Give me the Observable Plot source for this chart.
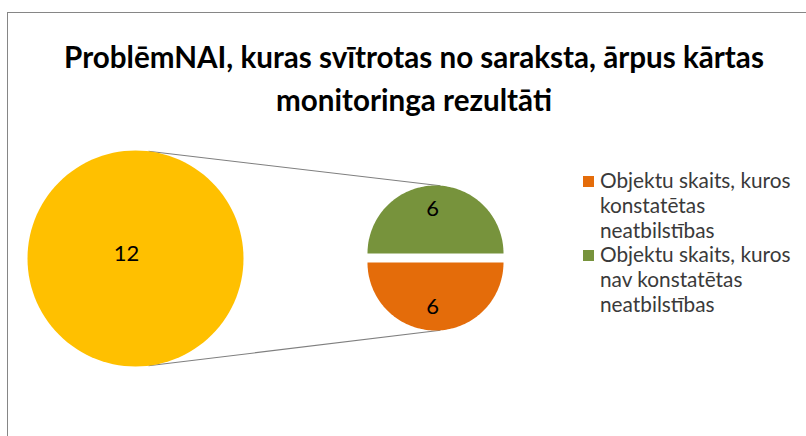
<!DOCTYPE html>
<html><head><meta charset="utf-8">
<script src="https://cdn.jsdelivr.net/npm/d3@7"></script>
<script src="https://cdn.jsdelivr.net/npm/@observablehq/plot@0.6"></script>
<style>
html,body{margin:0;padding:0;background:#fff;}
#wrap{position:relative;width:806px;height:436px;overflow:hidden;font-family:Lato,"Open Sans",sans-serif;}
#frame{position:absolute;left:7px;top:12px;width:900px;height:500px;border-left:1px solid #868686;border-top:1px solid #868686;box-sizing:border-box;}
#title{position:absolute;left:7px;top:12px;width:814px;text-align:center;font-weight:700;font-size:29.6px;line-height:43px;color:#000;padding-top:23px;white-space:nowrap;}
#chart{position:absolute;left:0;top:130px;}
#legend{position:absolute;left:583px;top:168px;font-size:20.8px;line-height:24.8px;color:#3a3a3a;}
.item{position:relative;padding-left:17px;width:205px;}
.sw{position:absolute;left:0;top:8px;width:11px;height:11px;}
</style></head>
<body>
<div id="wrap">
  <div id="frame"></div>
  <div id="title">ProblēmNAI, kuras svītrotas no saraksta, ārpus kārtas<br>monitoringa rezultāti</div>
  <div id="chart"></div>
  <div id="legend"></div>
</div>
<script>
// ---- data ----
const mainCategories = ["Kopā"];
const mainValues = [12];
const detailCategories = [
  "Objektu skaits, kuros konstatētas neatbilstības",
  "Objektu skaits, kuros nav konstatētas neatbilstības"
];
const detailValues = [6, 6];
const mainColors = ["#FFC000"];
const detailColors = ["#E46C0A", "#77933C"];

// ---- layout (page pixels) ----
const TOP = 130, W = 570, H = 306;
const big = {cx: 135, cy: 258, r: 108, explode: 0};
const small = {cx: 435, cy: 257.5, r: 68, explode: 4.5};
const deg = Math.PI / 180;

function pt(c, a, r, off, mid) {
  const ox = off * Math.sin(mid), oy = -off * Math.cos(mid);
  return {x: c.cx + ox + r * Math.sin(a), y: c.cy + oy - r * Math.cos(a)};
}
function slicePolys(values, cats, geom, start) {
  const arcs = d3.pie().sort(null).startAngle(start).endAngle(start + 2 * Math.PI)(values);
  const polys = [], labels = [];
  arcs.forEach((a, i) => {
    const mid = (a.startAngle + a.endAngle) / 2;
    const full = a.endAngle - a.startAngle > 2 * Math.PI - 1e-6;
    const off = full ? 0 : geom.explode;
    const n = 120;
    if (!full) polys.push({key: cats[i], cat: cats[i], ...pt(geom, 0, 0, off, mid)});
    for (let k = 0; k <= n; k++) {
      const ang = a.startAngle + (a.endAngle - a.startAngle) * k / n;
      polys.push({key: cats[i], cat: cats[i], ...pt(geom, ang, geom.r, off, mid)});
    }
    if (!full) polys.push({key: cats[i], cat: cats[i], ...pt(geom, 0, 0, off, mid)});
    const lp = full ? {x: geom.cx - 9, y: geom.cy - 5} : pt(geom, mid, geom.r * 0.65, off, mid);
    if (!full) lp.x -= 3;
    labels.push({cat: cats[i], value: a.data, ...lp});
  });
  return {polys, labels};
}
const mainPie = slicePolys(mainValues, mainCategories, big, 0);
const detailPie = slicePolys(detailValues, detailCategories, small, Math.PI / 2);

// connector lines from the main pie to the exploded detail pie
const connectors = [
  {from: pt(big, 6.9 * deg, big.r, 0, 0), to: pt(small, 4.2 * deg, small.r, small.explode, 0)},
  {from: pt(big, 173.1 * deg, big.r, 0, 0), to: pt(small, 175.8 * deg, small.r, small.explode, Math.PI)}
];

const chart = Plot.plot({
  width: W, height: H,
  margin: 0,
  x: {domain: [0, W], range: [0, W], axis: null},
  y: {domain: [TOP, TOP + H], range: [0, H], axis: null},
  color: {domain: [...mainCategories, ...detailCategories], range: [...mainColors, ...detailColors]},
  style: {fontFamily: "Lato, 'Open Sans', sans-serif", background: "transparent", overflow: "visible"},
  marks: [
    Plot.link(connectors, {x1: d => d.from.x, y1: d => d.from.y, x2: d => d.to.x, y2: d => d.to.y, stroke: "#7f7f7f", strokeWidth: 1.1}),
    Plot.line(mainPie.polys, {x: "x", y: "y", z: "key", fill: "cat", stroke: "none", curve: "linear"}),
    Plot.line(detailPie.polys, {x: "x", y: "y", z: "key", fill: "cat", stroke: "none", curve: "linear"}),
    Plot.text([...mainPie.labels, ...detailPie.labels], {x: "x", y: "y", text: d => String(d.value), fontSize: 22, fill: "#000"})
  ]
});
document.getElementById("chart").appendChild(chart);

const legend = document.getElementById("legend");
detailCategories.forEach((c, i) => {
  const div = document.createElement("div");
  div.className = "item";
  const sw = document.createElement("span");
  sw.className = "sw"; sw.style.background = detailColors[i];
  div.appendChild(sw);
  div.appendChild(document.createTextNode(c));
  legend.appendChild(div);
});
</script>
</body></html>
